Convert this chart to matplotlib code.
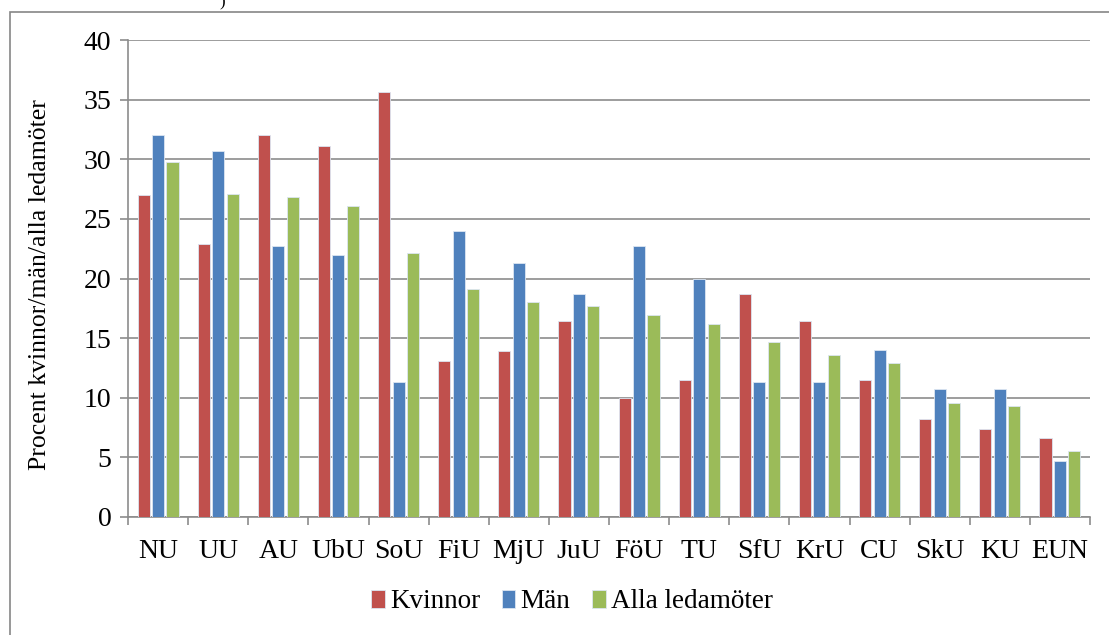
import matplotlib
matplotlib.use("Agg")
import matplotlib.pyplot as plt
import numpy as np
from matplotlib.patches import Rectangle

categories = ["NU", "UU", "AU", "UbU", "SoU", "FiU", "MjU", "JuU", "FöU", "TU",
              "SfU", "KrU", "CU", "SkU", "KU", "EUN"]
kvinnor = [27.0, 22.9, 32.0, 31.1, 35.6, 13.1, 13.9, 16.4, 10.0, 11.5, 18.7, 16.4, 11.5, 8.2, 7.4, 6.6]
man = [32.0, 30.7, 22.7, 22.0, 11.3, 24.0, 21.3, 18.7, 22.7, 20.0, 11.3, 11.3, 14.0, 10.7, 10.7, 4.7]
alla = [29.8, 27.1, 26.8, 26.1, 22.1, 19.1, 18.0, 17.7, 16.9, 16.2, 14.7, 13.6, 12.9, 9.6, 9.3, 5.5]
series_names = ["Kvinnor", "Män", "Alla ledamöter"]
colors = ["#C0504D", "#4F81BD", "#9BBB59"]
yticks = [0, 5, 10, 15, 20, 25, 30, 35, 40]

plt.rcParams['font.family'] = ['Liberation Serif', 'DejaVu Serif']

fig = plt.figure(figsize=(11.09, 6.35), dpi=100)
ax = fig.add_axes([128/1109, 1-517/635, (1090-128)/1109, (517-40)/635])

x = np.arange(len(categories))
w = 0.2
step = 0.24
for i, (vals, name, c) in enumerate(zip([kvinnor, man, alla], series_names, colors)):
    ax.bar(x + (i-1)*step, vals, width=w, color=c, edgecolor="#dce6f2", linewidth=0.6,
           label=name, zorder=3)

ax.set_xlim(-0.5, len(categories)-0.5)
ax.set_ylim(0, 40)
ax.set_yticks(yticks)
ax.set_yticklabels([str(v) for v in yticks], fontsize=20)
ax.yaxis.grid(True, color="#8c8c8c", linewidth=1.2, zorder=0)
ax.set_axisbelow(True)

ax.set_xticks(x)
ax.set_xticklabels(categories, fontsize=20)
ax.tick_params(axis='x', length=0, pad=16)
ax.set_xticks(np.arange(-0.5, len(categories)), minor=True)
ax.tick_params(axis='x', which='minor', length=6, color="#8c8c8c", width=1.2)
ax.tick_params(axis='y', length=6, color="#8c8c8c", width=1.2, pad=6)

for s in ['top', 'right']:
    ax.spines[s].set_visible(False)
for s in ['left', 'bottom']:
    ax.spines[s].set_color("#8c8c8c")
    ax.spines[s].set_linewidth(1.2)

ax.set_ylabel("Procent kvinnor/män/alla ledamöter", fontsize=18.5)
ax.yaxis.set_label_coords((51-128)/962, (517-285)/477)

leg = fig.legend(loc='center', bbox_to_anchor=(572/1109, 1-602/635), ncol=3, frameon=False,
                 fontsize=19.5, handlelength=0.5, handleheight=0.6, handletextpad=0.2,
                 columnspacing=0.8)

# chart-area border
fig.patches.append(Rectangle((10/1109, -0.1), 1.2, 1.1 - 12/635, transform=fig.transFigure,
                             fill=False, edgecolor="#868686", linewidth=1.2))
fig.text(222/1109, 1 - 2/635, ")", fontsize=12, ha='center', va='center')

fig.savefig("out.png", dpi=100)
